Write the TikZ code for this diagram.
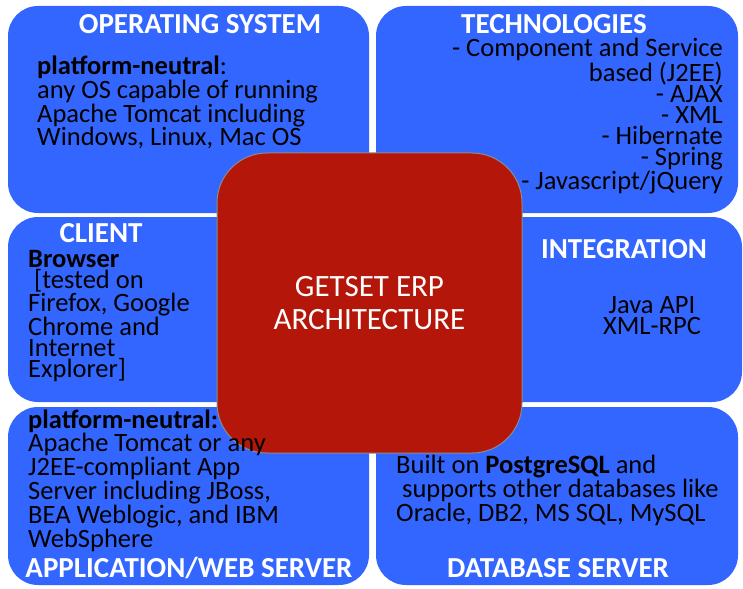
\documentclass[tikz,border=0pt]{standalone}
\usepackage{fontspec}
\setmainfont{Carlito}
\usetikzlibrary{positioning}
\definecolor{panelblue}{RGB}{51,102,255}
\definecolor{corered}{RGB}{180,23,10}

\begin{document}
\begin{tikzpicture}
  [
    x=1pt, y=-1pt,
    Panel/.style={draw=none, fill=panelblue, rounded corners=30pt, inner sep=0pt},
    Core/.style={draw=gray!90, fill=corered, rounded corners=50pt, line width=1pt, text=white, align=center, font=\fontsize{31}{33}\selectfont},
    Title/.style={text=white, font=\fontsize{29}{29}\selectfont\bfseries, inner sep=0pt, anchor=base},
    Body/.style={text=black, font=\fontsize{26.5}{21}\selectfont, inner sep=0pt, align=left, anchor=base west}
  ]
  \useasboundingbox (0,0) rectangle (743,588);

  % Panels
  \node[Panel, minimum width=361pt, minimum height=207pt] (os) at (188.5,109.5) {};
  \node[Panel, minimum width=362pt, minimum height=207pt] (tech) at (557,109.5) {};
  \node[Panel, minimum width=292pt, minimum height=185pt] (client) at (154,309.5) {};
  \node[Panel, minimum width=302pt, minimum height=185pt] (integ) at (591,309.5) {};
  \node[Panel, minimum width=361pt, minimum height=178pt] (app) at (188.5,496) {};
  \node[Panel, minimum width=362pt, minimum height=178pt] (db) at (557,496) {};

  % Core
  \node[Core, minimum width=305pt, minimum height=300pt] (core) at (369.5,303) {GETSET ERP\\ARCHITECTURE};

  % Titles
  \node[Title] (osT) at (200,34) {OPERATING SYSTEM};
  \node[Title] (techT) at (554,34) {TECHNOLOGIES};
  \node[Title] (clientT) at (101,242) {CLIENT};
  \node[Title] (integT) at (624,258) {INTEGRATION};
  \node[Title] (appT) at (189,577) {APPLICATION/WEB SERVER};
  \node[Title] (dbT) at (558,577) {DATABASE SERVER};

  % Texts (anchored at the last line)
  \node[Body] (osB) at (37,146) {\textbf{platform-neutral}:\\any OS capable of running\\Apache Tomcat including\\Windows, Linux, Mac OS};
  \node[Body, anchor=base east, align=right] (techB) at (723,189) {- Component and Service\\based (J2EE)\\- AJAX\\- XML\\- Hibernate\\- Spring\\- Javascript/jQuery};
  \node[Body] (clientB) at (28,377) {\textbf{Browser}\\\ [tested on\\Firefox, Google\\Chrome and\\Internet\\Explorer]};
  \node[Body, anchor=base, align=center] (integB) at (652,334) {Java API\\XML-RPC};
  \node[Body] (appB) at (28,547) {\textbf{platform-neutral:}\\Apache Tomcat or any\\J2EE-compliant App\\Server including JBoss,\\BEA Weblogic, and IBM\\WebSphere};
  \node[Body] (dbB) at (396,521) {Built on \textbf{PostgreSQL} and\\\ supports other databases like\\Oracle, DB2, MS SQL, MySQL};

\end{tikzpicture}
\end{document}
